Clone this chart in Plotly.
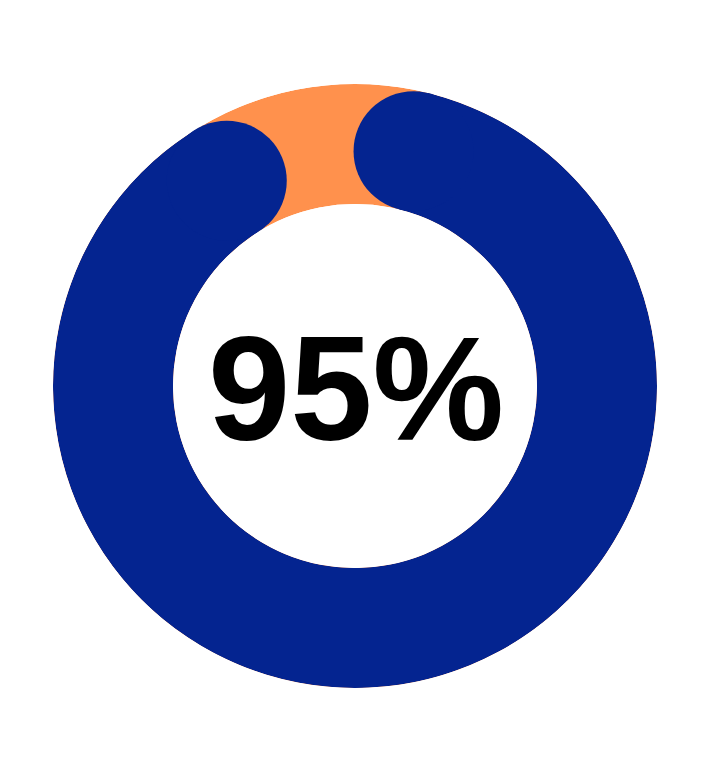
import plotly.graph_objects as go

# Datos
label = "95%"
arc_start_deg = [14]      # extremo derecho del arco azul (grados, sentido horario desde arriba)
arc_end_deg = [328]       # extremo izquierdo del arco azul
track_color = "#FF914D"
arc_color = "#042490"

W, H = 710, 770
cx, cy = 347, 378         # centro (compensa el margen de la página)
r_out, r_in = 302, 182
thick = r_out - r_in

span = arc_end_deg[0] - arc_start_deg[0]
mid = arc_start_deg[0] + span / 2

fig = go.Figure()

# anillo de fondo (naranja)
fig.add_trace(go.Barpolar(
    r=[1], theta=[0], width=[360], base=[0],
    marker=dict(color=track_color, line=dict(width=0)),
    hoverinfo="skip",
))

# arco azul
fig.add_trace(go.Barpolar(
    r=[1], theta=[mid], width=[span], base=[0],
    marker=dict(color=arc_color, line=dict(width=0)),
    hoverinfo="skip",
))

# extremos redondeados
fig.add_trace(go.Scatterpolar(
    r=[0.5, 0.5], theta=[arc_start_deg[0], arc_end_deg[0]],
    mode="markers",
    marker=dict(color=arc_color, size=thick, line=dict(width=0)),
    hoverinfo="skip",
))

fig.update_layout(
    width=W, height=H,
    margin=dict(l=0, r=0, t=0, b=0),
    paper_bgcolor="white",
    showlegend=False,
    polar=dict(
        domain=dict(x=[(cx - r_out) / W, (cx + r_out) / W],
                    y=[(H - cy - r_out) / H, (H - cy + r_out) / H]),
        hole=r_in / r_out,
        bgcolor="rgba(0,0,0,0)",
        radialaxis=dict(range=[0, 1], visible=False, showgrid=False),
        angularaxis=dict(rotation=90, direction="clockwise", visible=False,
                         showgrid=False),
        barmode="overlay",
    ),
    annotations=[dict(
        text=f"<b>{label}</b>", x=(cx + 1) / W, y=(H - cy - 2) / H,
        xref="paper", yref="paper", showarrow=False,
        font=dict(family="Liberation Sans, Arial", size=148, color="black"),
    )],
)

fig.write_html("out.html")
